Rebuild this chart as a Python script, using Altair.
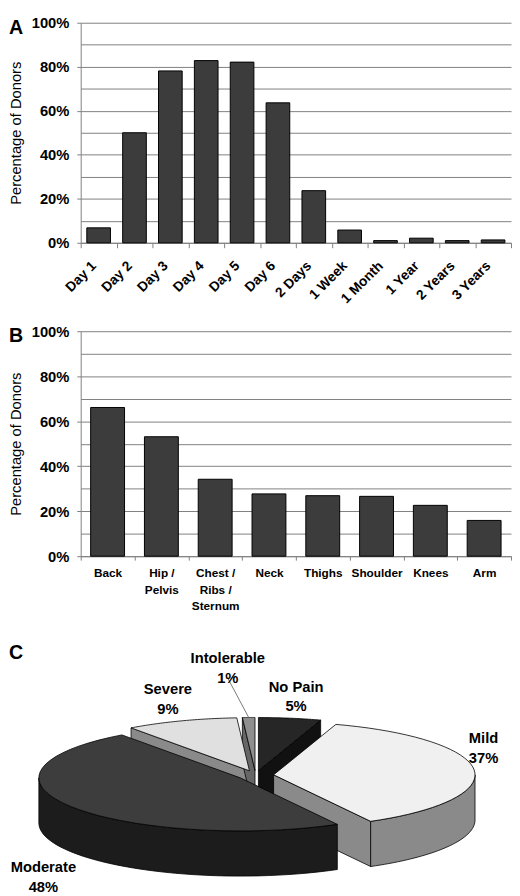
import altair as alt
import pandas as pd

# ---------------- data ----------------
panel_letters = ["A", "B", "C"]

a_categories = ["Day 1", "Day 2", "Day 3", "Day 4", "Day 5", "Day 6",
                "2 Days", "1 Week", "1 Month", "1 Year", "2 Years", "3 Years"]
a_values = [6.8, 50.0, 78.1, 82.8, 82.1, 63.6, 23.7, 5.8, 1.0, 2.1, 1.0, 1.3]

b_categories = ["Back", "Hip / Pelvis", "Chest / Ribs / Sternum", "Neck",
                "Thighs", "Shoulder", "Knees", "Arm"]
b_values = [66.1, 53.1, 34.2, 27.7, 26.9, 26.6, 22.6, 15.9]

c_labels = ["No Pain", "Mild", "Moderate", "Severe", "Intolerable"]
c_values = [5, 37, 48, 9, 1]

# ---------------- styles ----------------
FONT = "Liberation Sans"
GRAY = "#808080"
BAR_FILL = "#3c3c3c"
top_colors = ["#262626", "#f0f0f0", "#3d3d3d", "#e0e0e0", "#8f8f8f"]
side_colors = ["#111111", "#8a8a8a", "#1c1c1c", "#8a8a8a", "#666666"]

PLOT_W = 438
SPACING = 90
N = 40
CX, CY, RX, RY, DEPTH, EXPL = 259, 781, 205, 54, 46, 0.09
C_TOP, C_BOTTOM = 648, 890
X_LEFT = 81


def y_axis():
    return alt.Axis(
        values=list(range(0, 101, 10)),
        labelExpr="datum.value % 20 == 0 ? datum.value + '%' : ''",
        tickOpacity={"condition": {"test": "datum.value % 20 != 0", "value": 0}, "value": 1},
        grid=True, gridColor=GRAY, gridOpacity=1, gridWidth=1,
        domainColor=GRAY, tickColor=GRAY, tickSize=4,
        labelPadding=8, labelFontSize=15, labelFontWeight="bold", labelColor="black",
        title="Percentage of Donors", titleFontSize=15, titleFontWeight="normal",
        titleColor="black", titlePadding=8,
    )


def letter(t, x, y):
    return alt.Chart(pd.DataFrame({"t": [t]})).mark_text(
        font=FONT, fontSize=20, fontWeight="bold", align="left",
        baseline="alphabetic", color="black"
    ).encode(text="t:N", x=alt.value(x), y=alt.value(y))


# ---------------- panel A ----------------
a_df = pd.DataFrame({"cat": a_categories, "val": a_values})
bars_a = alt.Chart(a_df).mark_bar(
    color=BAR_FILL, stroke="black", strokeWidth=1, width=alt.RelativeBandSize(0.66)
).encode(
    x=alt.X("cat:N", sort=a_categories,
            scale=alt.Scale(paddingInner=0, paddingOuter=0),
            axis=alt.Axis(title=None, labelAngle=-45, labelAlign="right",
                          labelBaseline="middle", labelFontSize=14, labelFontWeight="bold",
                          labelColor="black", labelPadding=16, labelOffset=-5,
                          labelOverlap=False, tickBand="extent", tickSize=5,
                          tickColor=GRAY, domainColor=GRAY, grid=False)),
    y=alt.Y("val:Q", scale=alt.Scale(domain=[0, 100], nice=False), axis=y_axis()),
)
chart_a = alt.layer(bars_a, letter(panel_letters[0], -73, 11)).properties(
    width=PLOT_W, height=224)

# ---------------- panel B ----------------
b_df = pd.DataFrame({"cat": b_categories, "val": b_values})
bars_b = alt.Chart(b_df).mark_bar(
    color=BAR_FILL, stroke="black", strokeWidth=1, width=alt.RelativeBandSize(0.63)
).encode(
    x=alt.X("cat:N", sort=b_categories,
            scale=alt.Scale(paddingInner=0, paddingOuter=0),
            axis=alt.Axis(title=None, labelAngle=0, labelAlign="center",
                          labelBaseline="top", labelFontSize=12, labelFontWeight="bold",
                          labelColor="black", labelLineHeight=16.5, labelPadding=8,
                          labelOverlap=False,
                          labelExpr="split(replace(datum.label, regexp(' / ', 'g'), ' /|'), '|')",
                          tickBand="extent", tickSize=4, tickColor=GRAY,
                          domainColor=GRAY, grid=False)),
    y=alt.Y("val:Q", scale=alt.Scale(domain=[0, 100], nice=False), axis=y_axis()),
)
chart_b = alt.layer(bars_b, letter(panel_letters[1], -73, 11)).properties(
    width=PLOT_W, height=229)

# ---------------- panel C (3-D style pie) ----------------
c_df = pd.DataFrame({"label": c_labels, "pct": c_values})

xs = alt.Scale(domain=[X_LEFT, X_LEFT + PLOT_W], nice=False, zero=False)
ys = alt.Scale(domain=[C_TOP, C_BOTTOM], nice=False, zero=False, reverse=True)

base_c = alt.Chart(c_df).transform_window(
    idx="row_number()"
).transform_window(
    cum="sum(pct)", sort=[alt.SortField("idx")], frame=[None, 0]
).transform_calculate(
    a0="2*PI*(datum.cum - datum.pct)/100",
    a1="2*PI*datum.cum/100",
    m="(datum.a0 + datum.a1)/2",
    vx=f"{CX} + {EXPL * RX}*sin(datum.m)",
    vy=f"{CY} - {EXPL * RY}*cos(datum.m)",
)

poly = base_c.transform_calculate(
    parts="['f0','f1','wall','top']"
).transform_flatten(["parts"], as_=["part"]).transform_calculate(
    ks=f"sequence(0, {2 * N + 3})"
).transform_flatten(["ks"], as_=["k"]).transform_calculate(
    lo="max(datum.a0, PI/2)",
    hi="min(datum.a1, 3*PI/2)",
    keep=(f"datum.part == 'top' ? datum.k <= {N + 2} : "
          f"datum.part == 'wall' ? (datum.hi > datum.lo && datum.k <= {2 * N + 2}) : "
          f"datum.part == 'f0' ? (sin(datum.a0) < -0.000001 && datum.k <= 4) : "
          f"(sin(datum.a1) > 0.000001 && datum.k <= 4)"),
    ang=(f"datum.part == 'top' ? datum.a0 + (datum.a1 - datum.a0)*clamp(datum.k - 1, 0, {N})/{N} : "
         f"datum.part == 'wall' ? (datum.k <= {N} ? datum.lo + (datum.hi - datum.lo)*datum.k/{N} : "
         f"datum.k <= {2 * N + 1} ? datum.hi - (datum.hi - datum.lo)*(datum.k - {N + 1})/{N} : datum.lo) : "
         f"datum.part == 'f0' ? datum.a0 : datum.a1"),
    onrim=(f"datum.part == 'top' ? (datum.k >= 1 && datum.k <= {N + 1}) : "
           f"datum.part == 'wall' ? true : (datum.k == 1 || datum.k == 2)"),
    down=(f"datum.part == 'wall' ? (datum.k >= {N + 1} && datum.k <= {2 * N + 1}) : "
          f"datum.part == 'top' ? false : (datum.k == 2 || datum.k == 3)"),
    px=f"datum.vx + (datum.onrim ? {RX}*sin(datum.ang) : 0)",
    py=f"datum.vy - (datum.onrim ? {RY}*cos(datum.ang) : 0) + (datum.down ? {DEPTH} : 0)",
).transform_filter("datum.keep")

sides = poly.transform_filter("datum.part != 'top'").mark_line(
    stroke="black", strokeWidth=0.8, strokeJoin="round"
).encode(
    x=alt.X("px:Q", scale=xs, axis=None),
    y=alt.Y("py:Q", scale=ys, axis=None),
    order="k:Q",
    detail=["label:N", "part:N"],
    fill=alt.Fill("label:N", scale=alt.Scale(domain=c_labels, range=side_colors), legend=None),
)

tops = poly.transform_filter("datum.part == 'top'").mark_line(
    stroke="black", strokeWidth=0.8, strokeJoin="round"
).encode(
    x=alt.X("px:Q", scale=xs, axis=None),
    y=alt.Y("py:Q", scale=ys, axis=None),
    order="k:Q",
    detail=["label:N", "part:N"],
    fill=alt.Fill("label:N", scale=alt.Scale(domain=c_labels, range=top_colors), legend=None),
)

lab_base = base_c.transform_calculate(
    ex=f"{CX} + {(1 + EXPL) * RX}*sin(datum.m)",
    ey=f"{CY} - {(1 + EXPL) * RY}*cos(datum.m)",
    small="datum.pct < 3",
    lx="clamp(datum.ex + 40*sin(datum.m) + (datum.small ? -20 : 0), 43, 491)",
    ly=f"datum.ey + (cos(datum.m) >= 0 ? -32 : {DEPTH + 16}) + (datum.small ? -28 : 0)",
    ly2="datum.ly + 20",
    txt="datum.label + '\\n' + datum.pct + '%'",
)

leader = lab_base.transform_filter("datum.small").mark_rule(
    color="#555555", strokeWidth=0.8
).encode(
    x=alt.X("lx:Q", scale=xs, axis=None),
    y=alt.Y("ly2:Q", scale=ys, axis=None),
    x2="ex:Q",
    y2="ey:Q",
)

labels = lab_base.mark_text(
    font=FONT, fontSize=15, fontWeight="bold", lineBreak="\n", lineHeight=20,
    align="center", baseline="middle", color="black"
).encode(
    x=alt.X("lx:Q", scale=xs, axis=None),
    y=alt.Y("ly:Q", scale=ys, axis=None),
    text="txt:N",
)

chart_c = alt.layer(
    sides, tops, leader, labels, letter(panel_letters[2], -73, 663 - C_TOP)
).resolve_scale(fill="independent").properties(width=PLOT_W, height=C_BOTTOM - C_TOP)

chart = alt.vconcat(chart_a, chart_b, chart_c, spacing=SPACING, bounds="flush").properties(
    padding=0
).configure(font=FONT).configure_view(strokeWidth=0)

chart.save("out.html", embed_options={"renderer": "svg", "actions": False})
